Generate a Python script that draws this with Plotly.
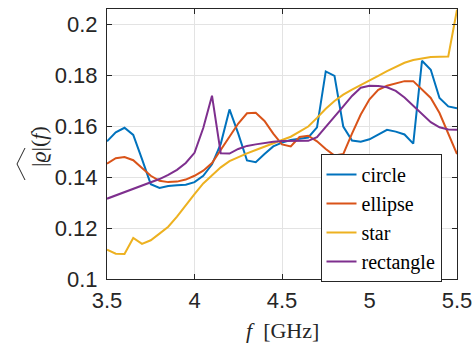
import plotly.graph_objects as go

freq_ghz = [3.50, 3.55, 3.60, 3.65, 3.70, 3.75, 3.80, 3.85, 3.90, 3.95,
            4.00, 4.05, 4.10, 4.15, 4.20, 4.25, 4.30, 4.35, 4.40, 4.45,
            4.50, 4.55, 4.60, 4.65, 4.70, 4.75, 4.80, 4.85, 4.90, 4.95,
            5.00, 5.05, 5.10, 5.15, 5.20, 5.25, 5.30, 5.35, 5.40, 5.45, 5.50]

circle = [0.1540, 0.1575, 0.1593, 0.1565, 0.1470, 0.1372, 0.1357, 0.1365, 0.1368, 0.1370,
          0.1380, 0.1405, 0.1450, 0.1530, 0.1665, 0.1570, 0.1465, 0.1458, 0.1490, 0.1520,
          0.1535, 0.1545, 0.1550, 0.1555, 0.1595, 0.1814, 0.1797, 0.1598, 0.1543, 0.1538,
          0.1548, 0.1568, 0.1585, 0.1578, 0.1567, 0.1531, 0.1856, 0.1821, 0.1710, 0.1677, 0.1670]

ellipse = [0.1452, 0.1474, 0.1478, 0.1466, 0.1435, 0.1405, 0.1385, 0.1380, 0.1382, 0.1390,
           0.1405, 0.1425, 0.1455, 0.1505, 0.1560, 0.1610, 0.1650, 0.1652, 0.1620, 0.1570,
           0.1528, 0.1520, 0.1557, 0.1562, 0.1540, 0.1510, 0.1484, 0.1490, 0.1570, 0.1645,
           0.1705, 0.1742, 0.1758, 0.1768, 0.1776, 0.1776, 0.1745, 0.1710, 0.1651, 0.1573, 0.1490]

star = [0.1115, 0.1099, 0.1098, 0.1161, 0.1138, 0.1152, 0.1178, 0.1205, 0.1245, 0.1290,
        0.1333, 0.1375, 0.1408, 0.1438, 0.1462, 0.1478, 0.1493, 0.1506, 0.1518, 0.1532,
        0.1545, 0.1558, 0.1577, 0.1598, 0.1632, 0.1668, 0.1698, 0.1723, 0.1743, 0.1760,
        0.1778, 0.1797, 0.1815, 0.1832, 0.1848, 0.1859, 0.1866, 0.1871, 0.1872, 0.1873, 0.2056]

rectangle = [0.1315, 0.1328, 0.1340, 0.1352, 0.1365, 0.1378, 0.1392, 0.1408, 0.1428, 0.1455,
             0.1495, 0.1592, 0.1719, 0.1493, 0.1492, 0.1510, 0.1522, 0.1528, 0.1534, 0.1538,
             0.1541, 0.1542, 0.1542, 0.1542, 0.1556, 0.1595, 0.1635, 0.1677, 0.1718, 0.1750,
             0.1758, 0.1757, 0.1752, 0.1738, 0.1712, 0.1680, 0.1646, 0.1615, 0.1595, 0.1586, 0.1585]

series_names = ["circle", "ellipse", "star", "rectangle"]
series_values = [circle, ellipse, star, rectangle]
colors = ["#0072BD", "#D95319", "#EDB120", "#7E2F8E"]

W, H = 476, 345
L, R, T, B = 107, 19, 9, 66
PW, PH = W - L - R, H - T - B


def px_x(p):
    return (p - L) / PW


def px_y(p):
    return (H - B - p) / PH


fig = go.Figure()
for name, vals, col in zip(series_names, series_values, colors):
    fig.add_trace(go.Scatter(x=freq_ghz, y=vals, name=name, mode="lines",
                             line=dict(color=col, width=2)))

axis_common = dict(
    showline=True, linecolor="#262626", linewidth=1, mirror="ticks",
    ticks="inside", ticklen=5, tickcolor="#262626", tickwidth=1,
    showgrid=True, gridcolor="#e3e3e3", gridwidth=1, zeroline=False,
    automargin=False,
    tickfont=dict(family="Liberation Sans, Arial, sans-serif", size=22, color="#262626"),
)

fig.update_xaxes(range=[3.5, 5.5], dtick=0.5, tick0=3.5, ticklabelstandoff=2, **axis_common)
fig.update_yaxes(range=[0.1, 0.2059], dtick=0.02, tick0=0.1, ticklabelstandoff=4, **axis_common)

serif = "Liberation Serif, Times New Roman, serif"

fig.add_annotation(xref="paper", yref="paper", x=px_x(282), y=px_y(330),
                   text="<i>f</i>  [GHz]", showarrow=False, xanchor="center", yanchor="middle",
                   font=dict(family=serif, size=22, color="#262626"))

fig.add_annotation(xref="paper", yref="paper", x=px_x(38), y=px_y(147),
                   text="|<i>ϱ</i>|(<i>f</i>)", showarrow=False, textangle=-90,
                   xanchor="center", yanchor="middle",
                   font=dict(family=serif, size=22, color="#262626"))

# wide hat over |ϱ| in the rotated y-axis label
fig.add_shape(type="path", xref="paper", yref="paper",
              path=f"M {px_x(25)} {px_y(180)} L {px_x(17)} {px_y(164)} L {px_x(25)} {px_y(148)}",
              line=dict(color="#262626", width=1))

fig.update_layout(
    width=W, height=H, margin=dict(l=L, r=R, t=T, b=B, autoexpand=False),
    paper_bgcolor="white", plot_bgcolor="white",
    legend=dict(x=px_x(320.5), xanchor="left", y=px_y(218), yanchor="middle",
                bordercolor="#262626", borderwidth=1, bgcolor="white",
                font=dict(family=serif, size=20, color="#000000"),
                itemwidth=30, tracegroupgap=0),
    showlegend=True,
)

fig.write_html("out.html", config={"displayModeBar": False},
               post_script="document.body.style.margin='0';")
